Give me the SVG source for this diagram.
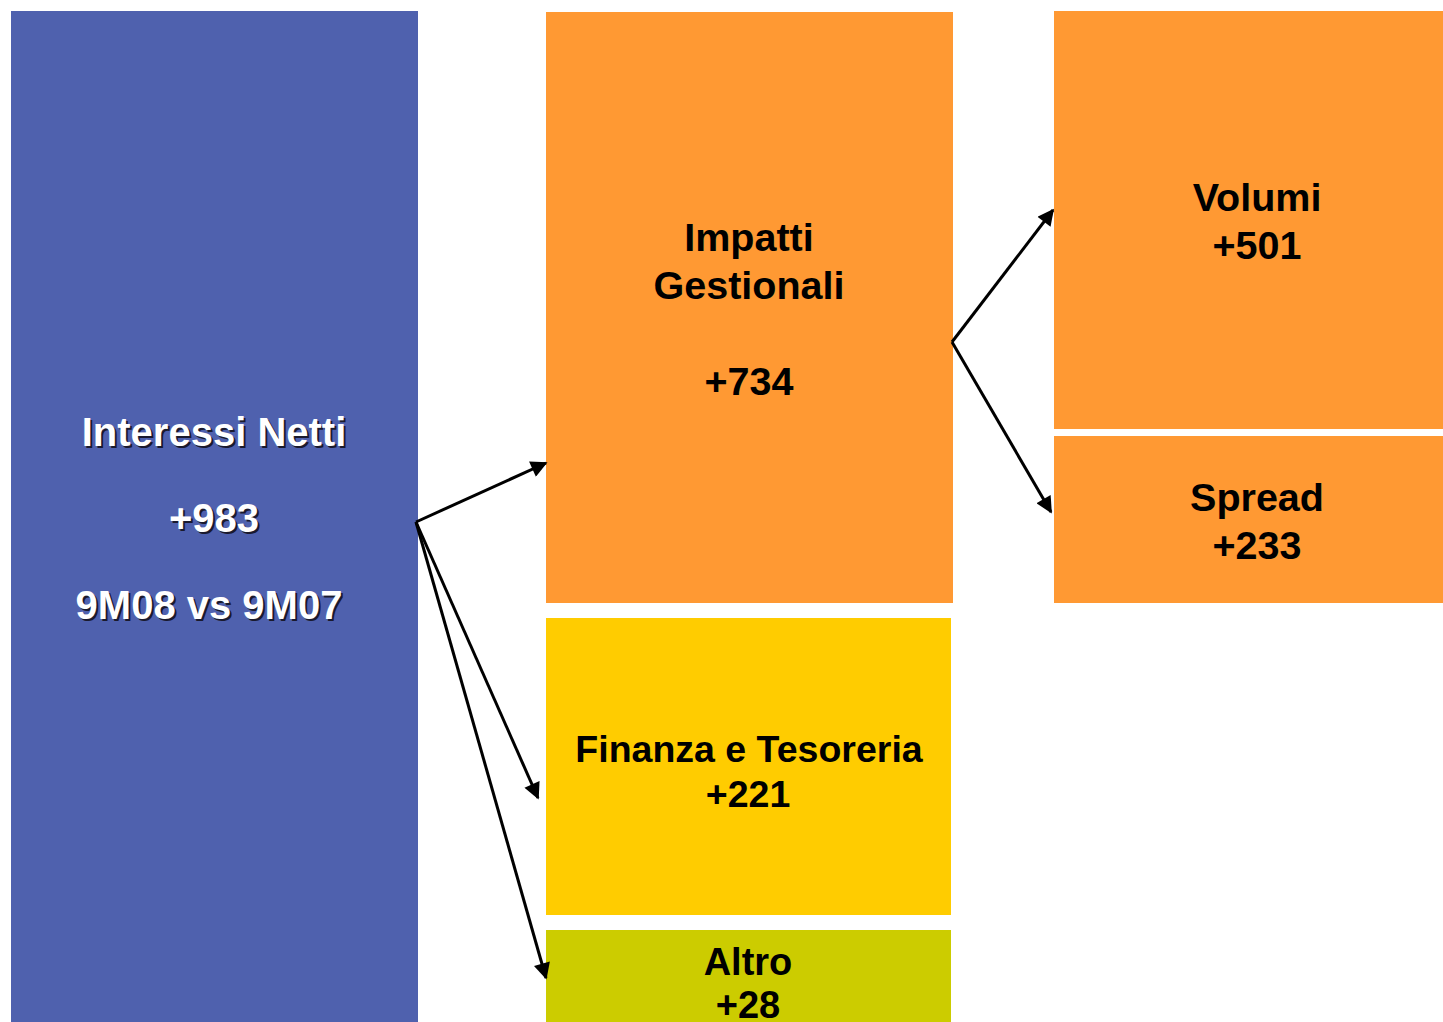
<svg xmlns="http://www.w3.org/2000/svg" width="1443" height="1022" viewBox="0 0 1443 1022">
<style>
text{font-family:"Liberation Sans",Arial,sans-serif;font-weight:bold;font-size:38px;text-anchor:middle}
.dk{fill:#000}
.wh{fill:#fff}
.sh{fill:#1a1a2e}
.big{font-size:39.5px}
.lg{font-size:40px}
.sm{font-size:37.5px}
.edge{stroke:#000;stroke-width:3;fill:none;marker-end:url(#ah)}
</style>
<defs>
<marker id="ah" viewBox="0 0 10 10" refX="9" refY="5" markerWidth="6" markerHeight="5.5" orient="auto" markerUnits="strokeWidth">
<path d="M0,0 L10,5 L0,10 z" fill="#000"/>
</marker>
</defs>
<rect width="1443" height="1022" fill="#fff"/>
<g id="interessi">
<rect x="11" y="11" width="407" height="1011" fill="#4F61AE"/>
<text class="sh lg" x="216" y="448">Interessi Netti</text>
<text class="wh lg" x="214" y="446">Interessi Netti</text>
<text class="sh lg" x="216" y="534">+983</text>
<text class="wh lg" x="214" y="532">+983</text>
<text class="sh lg" x="211" y="621">9M08 vs 9M07</text>
<text class="wh lg" x="209" y="619">9M08 vs 9M07</text>
</g>
<g id="impatti">
<rect x="546" y="12" width="407" height="591" fill="#FF9933"/>
<text class="dk big" x="749" y="251">Impatti</text>
<text class="dk big" x="749" y="299">Gestionali</text>
<text class="dk big" x="749" y="395">+734</text>
</g>
<g id="finanza">
<rect x="546" y="618" width="405" height="297" fill="#FFCC00"/>
<text class="dk sm" x="749" y="762">Finanza e Tesoreria</text>
<text class="dk sm" x="748" y="807">+221</text>
</g>
<g id="altro">
<rect x="546" y="930" width="405" height="92" fill="#CCCC00"/>
<text class="dk" x="748" y="975">Altro</text>
<text class="dk" x="748" y="1018">+28</text>
</g>
<g id="volumi">
<rect x="1054" y="11" width="389" height="418" fill="#FF9933"/>
<text class="dk big" x="1257" y="211">Volumi</text>
<text class="dk big" x="1257" y="259">+501</text>
</g>
<g id="spread">
<rect x="1054" y="436" width="389" height="167" fill="#FF9933"/>
<text class="dk big" x="1257" y="511">Spread</text>
<text class="dk big" x="1257" y="559">+233</text>
</g>
<g id="connectors">
<path class="edge" d="M416,522 L546,463"/>
<path class="edge" d="M416,522 L538,798"/>
<path class="edge" d="M416,522 L546,978"/>
<path class="edge" d="M952,342 L1053,210"/>
<path class="edge" d="M952,342 L1051,512"/>
</g>
</svg>
